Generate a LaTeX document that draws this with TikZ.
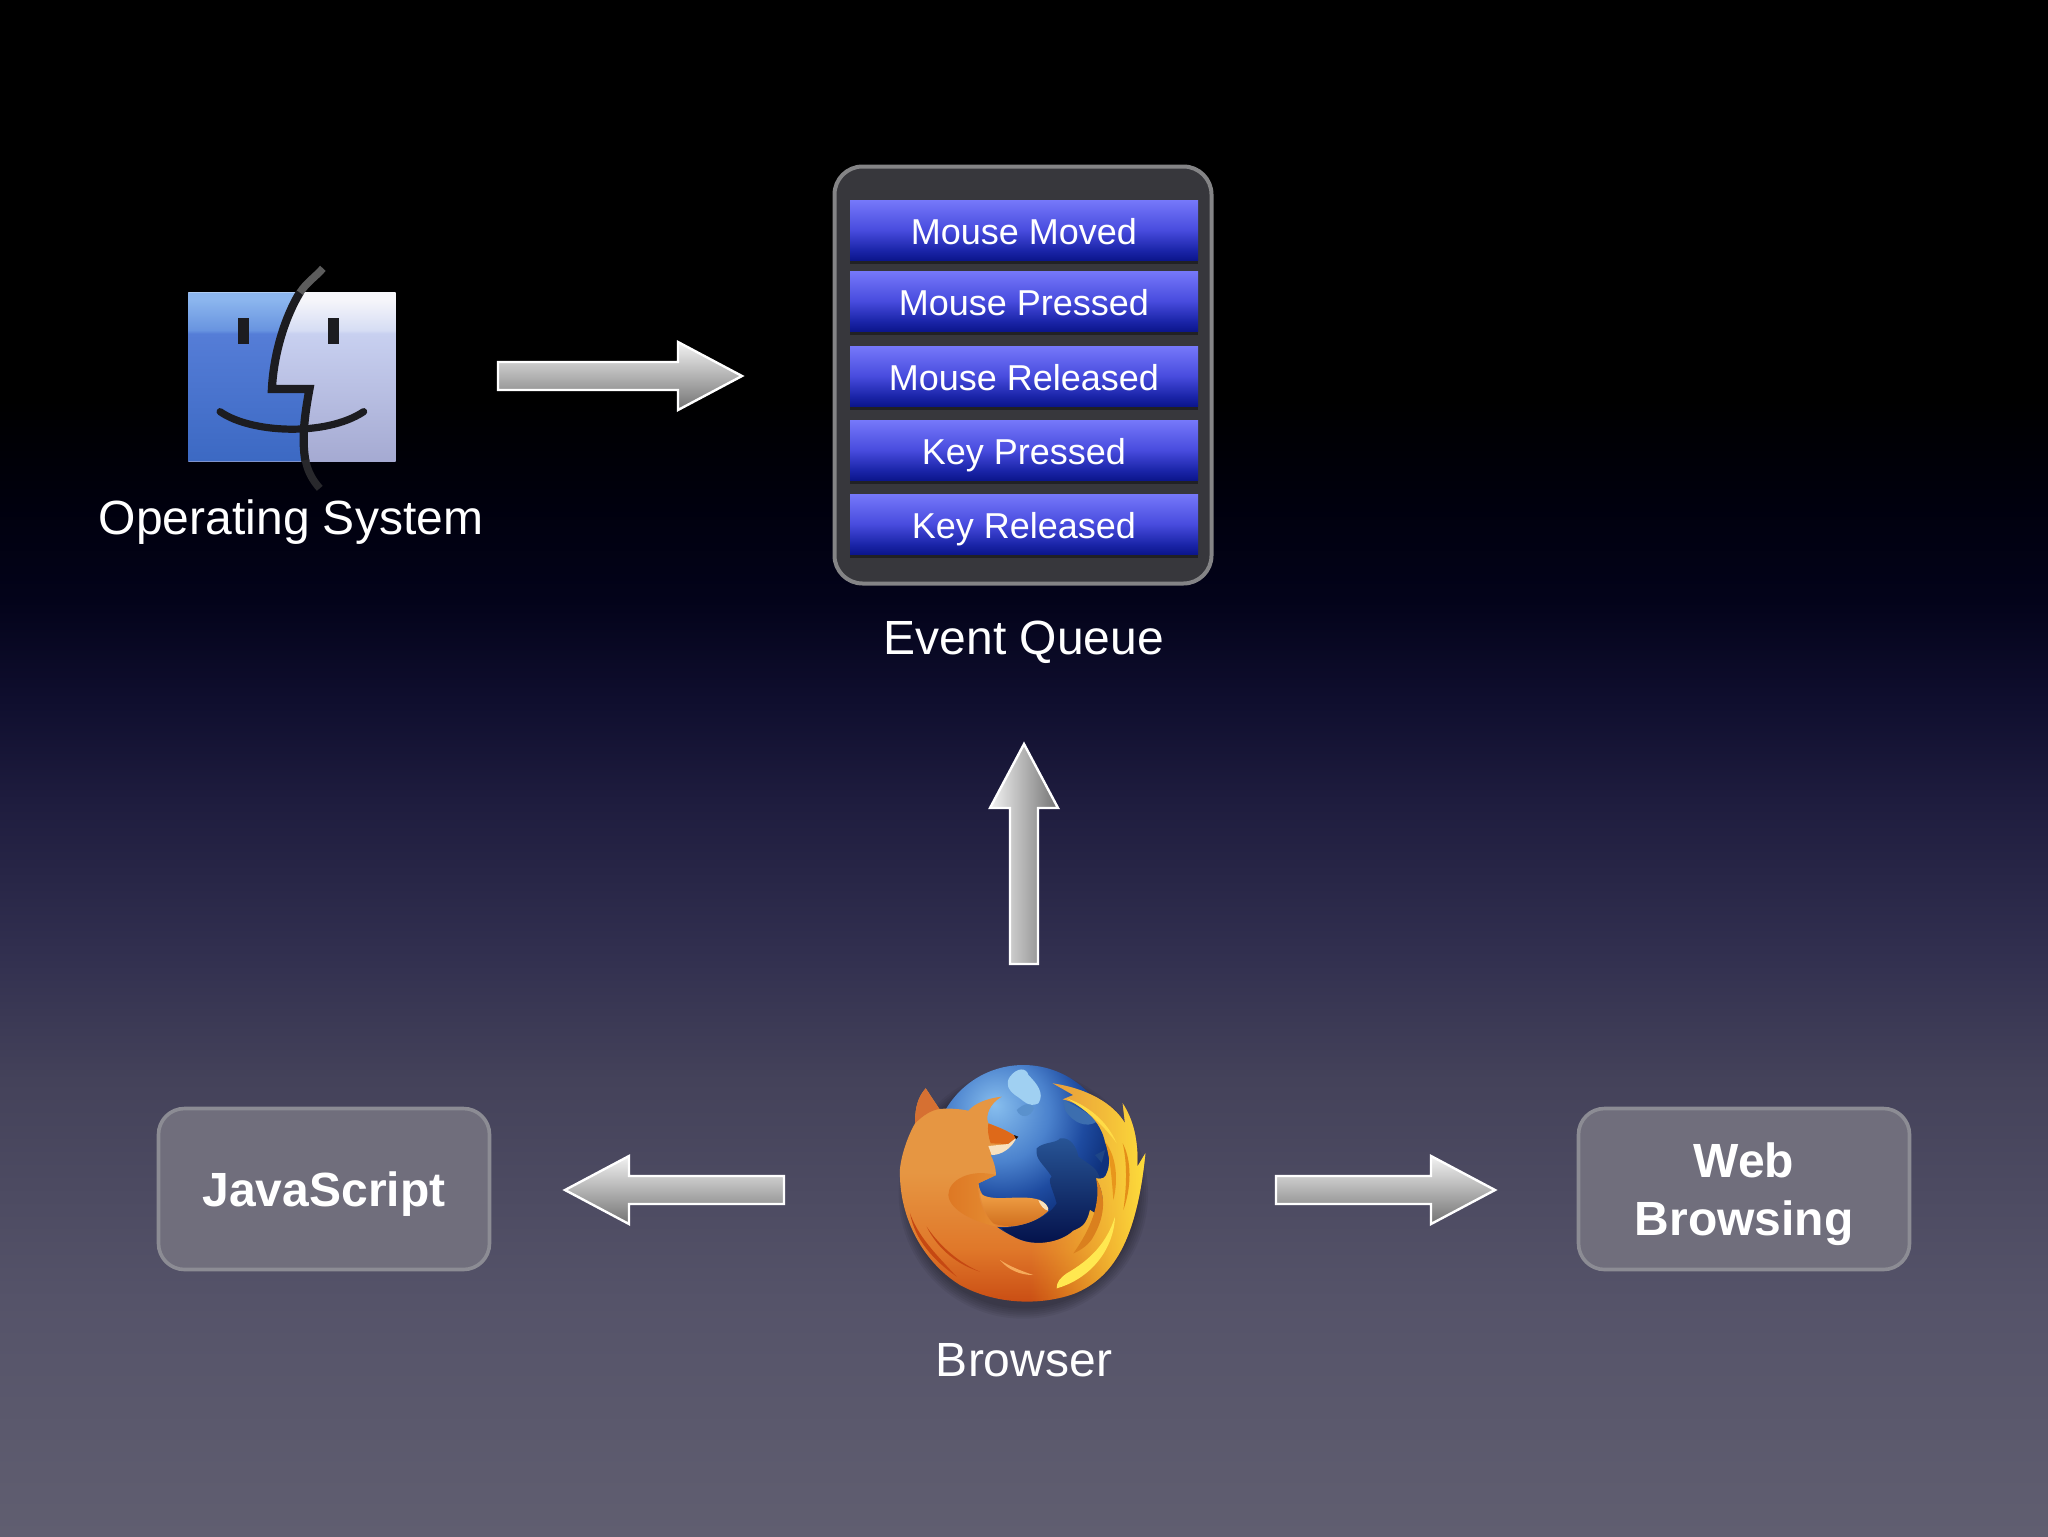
\documentclass[tikz,border=0pt]{standalone}
\usepackage{fontspec}
\setmainfont{Liberation Sans}
\usetikzlibrary{calc,fadings,shadows}
\definecolor{bg0}{RGB}{0,0,0}
\definecolor{bg1}{RGB}{0,0,13}
\definecolor{bg2}{RGB}{3,3,26}
\definecolor{bg3}{RGB}{15,14,46}
\definecolor{bg4}{RGB}{30,28,62}
\definecolor{bg5}{RGB}{49,47,79}
\definecolor{bg6}{RGB}{68,66,90}
\definecolor{bg7}{RGB}{85,83,105}
\definecolor{bg8}{RGB}{96,94,112}
\pgfdeclareverticalshading{bgsh}{100bp}{
 color(0bp)=(bg8); color(25bp)=(bg8); color(32.68bp)=(bg7); color(39.84bp)=(bg6);
 color(44.08bp)=(bg5); color(48.96bp)=(bg4); color(52.21bp)=(bg3); color(55.47bp)=(bg2);
 color(58.72bp)=(bg1); color(61.98bp)=(bg0); color(100bp)=(bg0)}
\definecolor{bar0}{RGB}{118,120,250}
\definecolor{bar1}{RGB}{72,76,222}
\definecolor{bar2}{RGB}{26,36,168}
\definecolor{bar3}{RGB}{12,22,140}
\pgfdeclareverticalshading{barsh}{100bp}{
 color(0bp)=(bar3); color(25bp)=(bar3); color(33bp)=(bar2); color(50bp)=(bar1); color(75bp)=(bar0); color(100bp)=(bar0)}
\definecolor{fl0}{RGB}{140,182,238}
\definecolor{fl1}{RGB}{104,148,224}
\definecolor{fl2}{RGB}{85,125,215}
\definecolor{fl3}{RGB}{60,105,195}
\pgfdeclareverticalshading{findleft}{100bp}{
 color(0bp)=(fl3); color(25bp)=(fl3); color(62.8bp)=(fl2); color(63.8bp)=(fl1); color(73bp)=(fl0); color(75bp)=(fl0); color(100bp)=(fl0)}
\definecolor{fr0}{RGB}{246,246,250}
\definecolor{fr1}{RGB}{214,221,244}
\definecolor{fr2}{RGB}{200,208,240}
\definecolor{fr3}{RGB}{165,170,210}
\pgfdeclareverticalshading{findright}{100bp}{
 color(0bp)=(fr3); color(25bp)=(fr3); color(62.8bp)=(fr2); color(63.8bp)=(fr1); color(73bp)=(fr0); color(75bp)=(fr0); color(100bp)=(fr0)}
\definecolor{gl0}{RGB}{135,190,238}
\definecolor{gl1}{RGB}{75,130,205}
\definecolor{gl2}{RGB}{30,75,160}
\definecolor{gl3}{RGB}{15,50,125}
\pgfdeclareradialshading{globesh}{\pgfpoint{-8bp}{14bp}}{
 color(0bp)=(gl0); color(14bp)=(gl1); color(23bp)=(gl2); color(30bp)=(gl3); color(100bp)=(gl3)}
\definecolor{foxa}{RGB}{230,150,66}
\definecolor{foxb}{RGB}{224,120,42}
\definecolor{foxc}{RGB}{200,74,18}
\pgfdeclareverticalshading{foxsh}{100bp}{
 color(0bp)=(foxc); color(25bp)=(foxc); color(38bp)=(foxb); color(55bp)=(foxa); color(100bp)=(foxa)}
\tikzfading[name=ffyellow,left color=transparent!100,middle color=transparent!35,right color=transparent!0]
\definecolor{boxfill}{RGB}{112,110,124}
\definecolor{boxline}{RGB}{140,140,148}
\definecolor{qfill}{RGB}{55,55,60}
\definecolor{qline}{RGB}{132,132,134}
\definecolor{facedark}{RGB}{28,28,32}
\definecolor{inkg}{RGB}{92,92,92}
\definecolor{inkh}{RGB}{40,40,44}
\definecolor{landa}{RGB}{160,208,242}
\definecolor{landb}{RGB}{90,145,205}
\definecolor{landc}{RGB}{60,110,175}
\definecolor{landd}{RGB}{40,85,150}
\definecolor{lande}{RGB}{4,18,75}
\definecolor{landf}{RGB}{30,70,135}
\definecolor{yela}{RGB}{245,190,40}
\definecolor{yelb}{RGB}{255,226,60}
\definecolor{curla}{RGB}{222,120,36}
\definecolor{curlb}{RGB}{228,140,50}
\definecolor{taila}{RGB}{240,160,70}
\definecolor{tailb}{RGB}{205,105,25}
\definecolor{creamc}{RGB}{248,225,190}
\definecolor{headc}{RGB}{222,105,25}
\definecolor{nosec}{RGB}{30,20,20}
\definecolor{earc}{RGB}{214,112,50}
\definecolor{furred}{RGB}{198,72,18}
\definecolor{furlight}{RGB}{246,170,90}
\definecolor{flama}{RGB}{218,128,30}
\definecolor{flamb}{RGB}{255,232,80}
\definecolor{flamc}{RGB}{232,150,28}
\definecolor{flamd}{RGB}{228,142,24}
\definecolor{flame}{RGB}{255,220,70}
\tikzset{
 barnode/.style={shade,shading=barsh,minimum width=174pt,minimum height=30pt,inner sep=0pt,
   text=white,font=\fontsize{18}{20}\selectfont,text height=14.6pt,text depth=0pt,
   drop shadow={shadow xshift=0pt,shadow yshift=-2pt,opacity=.4,fill=black}},
 roundbox/.style={draw=boxline,line width=1.8pt,fill=boxfill,rounded corners=13pt,
   minimum width=165.5pt,minimum height=80.5pt,inner sep=0pt,text=white,
   font=\fontsize{24}{29}\bfseries\selectfont,align=center},
 caption/.style={text=white,font=\fontsize{24}{28}\selectfont,anchor=base,inner sep=0pt},
 blockbody/.style={draw=white,line width=1.2pt,line join=miter,miter limit=10,
   top color=white!95!black,middle color=white!75!black,bottom color=white!45!black},
 inkline/.style={draw=facedark,line cap=round}
}
\newcommand\blockarrow[3]{%
 \coordinate (hb) at ($(#2)!32pt!(#1)$);
 \shade[blockbody,shading angle=#3]
  ($(#1)!7pt!90:(#2)$) -- ($(hb)!7pt!90:(#2)$) -- ($(hb)!17pt!90:(#2)$) -- (#2) --
  ($(hb)!17pt!-90:(#2)$) -- ($(hb)!7pt!-90:(#2)$) -- ($(#1)!7pt!-90:(#2)$) -- cycle;}
\newcommand\foxoutline{
 (197,145) .. controls (175,170) and (165,200) .. (165,250)
 .. controls (145,285) and (125,340) .. (120,385)
 .. controls (115,520) and (180,660) .. (300,735)
 .. controls (400,790) and (530,800) .. (640,762)
 .. controls (760,715) and (830,600) .. (856,340)
 -- (832,380) .. controls (835,300) and (820,240) .. (788,190)
 -- (795,250) .. controls (760,190) and (680,145) .. (578,130)
 -- (640,165) -- (608,178)
 .. controls (670,190) and (725,250) .. (735,305)
 .. controls (752,340) and (750,380) .. (740,400)
 .. controls (738,410) and (728,420) .. (708,415)
 .. controls (735,460) and (730,500) .. (722,530)
 -- (690,510) .. controls (680,550) and (670,560) .. (640,572)
 .. controls (600,610) and (520,620) .. (470,595)
 .. controls (450,585) and (430,575) .. (410,560)
 .. controls (470,565) and (540,545) .. (565,505)
 .. controls (550,470) and (480,470) .. (400,490)
 .. controls (375,480) and (360,460) .. (355,430)
 -- (408,405) .. controls (408,385) and (400,360) .. (392,345)
 -- (470,292) .. controls (440,270) and (410,260) .. (385,250)
 .. controls (375,225) and (390,190) .. (425,170)
 .. controls (380,175) and (345,190) .. (325,212)
 .. controls (290,205) and (260,205) .. (238,207)
 -- cycle}
\begin{document}
\begin{tikzpicture}[x=.5pt,y=-.5pt]
\useasboundingbox (0,0) rectangle (2048,1536);
\shade[shading=bgsh] (0,0) rectangle (2048,1536);

% Finder icon
\begin{scope}[shift={(160,240)}]
\begin{scope}[x=0.19771pt,y=-0.16667pt]
 \shade[shading=findright] (72,157) rectangle (596,664);
 \shade[shading=findleft] (72,157) -- (354,157) .. controls (312,240) and (287,350) .. (283,447)
   -- (378,447) .. controls (365,530) and (358,600) .. (368,664) -- (72,664) -- cycle;
 \fill[facedark] (197,233) rectangle (225,312);
 \fill[facedark] (425,233) rectangle (453,312);
 \draw[inkline,line width=3.6pt] (152,515) .. controls (230,580) and (420,590) .. (515,515);
 \draw[facedark,line width=4.1pt,line join=miter] (354,157) .. controls (312,240) and (287,350) .. (283,447) -- (378,447)
   .. controls (365,530) and (358,600) .. (368,664);
 \draw[draw=inkg,line width=3.8pt] (412,85) .. controls (392,112) and (370,128) .. (354,158);
 \draw[draw=inkh,line width=3.8pt] (368,660) .. controls (372,690) and (385,720) .. (404,745);
\end{scope}
\end{scope}

% Firefox icon
\begin{scope}[shift={(860,1040)}]
\begin{scope}[x=0.16667pt,y=-0.16667pt]
 \foreach \r in {344,350,356,362,368,374}{\fill[black,opacity=.055] (490,462) circle[radius=\r];}
 \shade[shading=globesh] (490,345) circle[radius=270];
 % land
 \fill[landa] (450,110) .. controls (470,82) and (500,82) .. (505,105) .. controls (530,130) and (555,160) .. (535,190)
   .. controls (505,205) and (490,180) .. (465,165) .. controls (445,150) and (435,130) .. (450,110) -- cycle;
 \fill[landb] (470,210) .. controls (490,190) and (515,185) .. (522,205) .. controls (510,235) and (480,235) .. (470,210) -- cycle;
 \fill[landc] (610,180) .. controls (650,200) and (690,220) .. (710,245) .. controls (680,265) and (640,250) .. (615,210) -- cycle;
 \shade[top color=landd,bottom color=lande]
   (530,325) .. controls (550,305) and (590,310) .. (600,295) .. controls (630,290) and (650,320) .. (655,350)
   .. controls (690,375) and (715,385) .. (720,420) .. controls (720,520) and (680,590) .. (560,610) .. controls (510,610) and (460,600) .. (425,565)
   .. controls (480,560) and (560,540) .. (590,490) .. controls (580,450) and (560,420) .. (575,410) .. controls (550,370) and (525,360) .. (530,325) -- cycle;
 \fill[landf] (705,345) -- (735,330) -- (725,368) -- cycle;
 % fox
 \shade[shading=foxsh] \foxoutline;
 \begin{scope}
  \clip \foxoutline;
  \shade[path fading=ffyellow,fit fading=true,left color=yela,right color=yelb] (510,100) rectangle (870,800);
 \end{scope}
 % curl of the body and tail
 \shade[left color=curla,right color=curlb]
   (408,405) .. controls (330,385) and (265,420) .. (265,465) .. controls (268,510) and (340,545) .. (410,560)
   .. controls (380,535) and (352,490) .. (355,430) -- cycle;
 \shade[top color=taila,bottom color=tailb]
   (360,460) .. controls (400,490) and (480,460) .. (540,480) .. controls (555,488) and (565,500) .. (565,512)
   .. controls (530,550) and (450,570) .. (400,550) .. controls (375,525) and (365,490) .. (360,460) -- cycle;
 \fill[creamc] (535,480) .. controls (555,485) and (565,498) .. (565,512) .. controls (552,510) and (540,495) .. (535,480) -- cycle;
 % head
 \fill[headc] (385,250) .. controls (415,262) and (445,272) .. (470,292) -- (445,312) -- (392,310) .. controls (385,290) and (382,270) .. (385,250) -- cycle;
 \fill[creamc] (385,318) -- (445,312) -- (470,292) .. controls (455,325) and (425,345) .. (395,345) -- cycle;
 \fill[nosec] (462,285) -- (475,290) -- (468,298) -- cycle;
 \fill[earc] (197,145) .. controls (175,170) and (165,200) .. (165,250) .. controls (190,225) and (215,210) .. (238,207) -- cycle;
 % fur and flame streaks
 \fill[furred] (150,520) .. controls (175,590) and (225,640) .. (290,710) .. controls (220,660) and (165,600) .. (150,520) -- cycle;
 \fill[furred] (200,560) .. controls (240,620) and (300,670) .. (360,695) .. controls (295,675) and (235,630) .. (200,560) -- cycle;
 \fill[furlight] (420,660) .. controls (450,680) and (490,695) .. (520,705) .. controls (480,705) and (445,690) .. (420,660) -- cycle;
 \fill[flama] (708,415) .. controls (735,460) and (740,520) .. (700,590) .. controls (690,610) and (665,630) .. (640,640) .. controls (690,570) and (725,490) .. (708,415) -- cycle;
 \fill[flamb] (765,530) .. controls (740,610) and (690,660) .. (620,700) .. controls (600,715) and (590,725) .. (590,745) .. controls (680,720) and (760,640) .. (765,530) -- cycle;
 \fill[flamc] (735,305) .. controls (770,350) and (775,420) .. (760,480) .. controls (755,410) and (750,350) .. (735,305) -- cycle;
 \fill[flamd] (788,310) .. controls (815,360) and (815,440) .. (790,510) .. controls (800,440) and (802,370) .. (788,310) -- cycle;
 \fill[flame] (620,175) .. controls (680,195) and (740,240) .. (770,310) .. controls (735,260) and (680,210) .. (620,175) -- cycle;
\end{scope}
\end{scope}

% Event queue
\node (queue) [draw=qline,line width=2pt,fill=qfill,rounded corners=14pt,minimum width=188.5pt,minimum height=208.5pt,inner sep=0pt] at (1023,375) {};
\node (ev1) [barnode] at (1024,230) {Mouse Moved};
\node (ev2) [barnode] at (1024,301) {Mouse Pressed};
\node (ev3) [barnode] at (1024,376) {Mouse Released};
\node (ev4) [barnode] at (1024,450) {Key Pressed};
\node (ev5) [barnode] at (1024,524) {Key Released};

% Boxes
\node (js) [roundbox,text height=17pt,text depth=0pt] at (324,1189) {JavaScript};
\node (web) [roundbox,text height=46pt,text depth=0pt] at (1744,1189) {Web\\Browsing};

% Captions
\node (oscap) [caption] at (291,534) {Operating System};
\node (qcap) [caption] at (1024,654) {Event Queue};
\node (brcap) [caption] at (1024,1376) {Browser};

% Arrows
\coordinate (a1s) at (498,376); \coordinate (a1t) at (742,376);
\coordinate (a2s) at (1024,964); \coordinate (a2t) at (1024,744);
\coordinate (a3s) at (784,1190); \coordinate (a3t) at (565,1190);
\coordinate (a4s) at (1276,1190); \coordinate (a4t) at (1495,1190);
\blockarrow{a1s}{a1t}{0}
\blockarrow{a2s}{a2t}{90}
\blockarrow{a3s}{a3t}{0}
\blockarrow{a4s}{a4t}{0}
\end{tikzpicture}
\end{document}
